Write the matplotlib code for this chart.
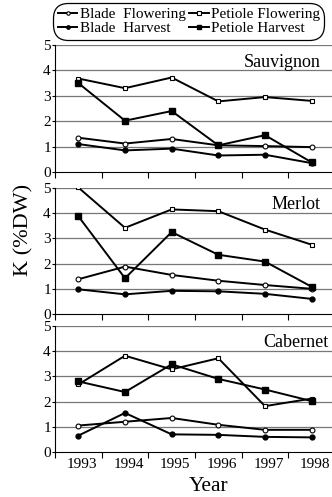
import matplotlib.pyplot as plt
import numpy as np

plt.rcParams['font.family'] = ['Liberation Serif', 'DejaVu Serif']

years = [1993, 1994, 1995, 1996, 1997, 1998]
cultivars = ["Sauvignon", "Merlot", "Cabernet"]

# K (%DW) per cultivar
blade_flowering = {
    "Sauvignon": [1.35, 1.12, 1.30, 1.05, 1.02, 0.98],
    "Merlot": [1.38, 1.88, 1.55, 1.32, 1.15, 1.00],
    "Cabernet": [1.05, 1.20, 1.35, 1.08, 0.88, 0.88],
}
blade_harvest = {
    "Sauvignon": [1.10, 0.85, 0.92, 0.65, 0.68, 0.35],
    "Merlot": [0.98, 0.78, 0.92, 0.90, 0.80, 0.60],
    "Cabernet": [0.65, 1.55, 0.70, 0.68, 0.60, 0.58],
}
petiole_flowering = {
    "Sauvignon": [3.68, 3.30, 3.72, 2.78, 2.95, 2.80],
    "Merlot": [5.02, 3.42, 4.15, 4.08, 3.35, 2.75],
    "Cabernet": [2.68, 3.82, 3.28, 3.72, 1.82, 2.12],
}
petiole_harvest = {
    "Sauvignon": [3.50, 2.02, 2.40, 1.05, 1.45, 0.38],
    "Merlot": [3.88, 1.42, 3.25, 2.35, 2.08, 1.08],
    "Cabernet": [2.80, 2.38, 3.48, 2.90, 2.48, 2.02],
}

fig = plt.figure(figsize=(3.32, 4.97), dpi=100)

# axes boxes in pixels: (top at 5, bottom at 0)
rows = [(45, 172), (188, 314), (326, 452)]
left_px, right_px = 55, 335
H, W = 497.0, 332.0
title_x = [0.95, 0.95, 0.975]

x = np.array(years)
handles = []
for i, (name, (top, bot)) in enumerate(zip(cultivars, rows)):
    ax = fig.add_axes([left_px / W, 1 - bot / H, (right_px - left_px) / W, (bot - top) / H])
    s1, = ax.plot(x, blade_flowering[name], "-", color="black", lw=1.4, marker="o",
                  ms=3.5, mfc="white", mec="black", mew=0.8, label="Blade  Flowering")
    s2, = ax.plot(x, blade_harvest[name], "-", color="black", lw=1.4, marker="o",
                  ms=3.5, mfc="black", mec="black", label="Blade  Harvest")
    s3, = ax.plot(x, petiole_flowering[name], "-", color="black", lw=1.4, marker="s",
                  ms=3.5, mfc="white", mec="black", mew=0.8, label="Petiole Flowering")
    s4, = ax.plot(x, petiole_harvest[name], "-", color="black", lw=1.4, marker="s",
                  ms=4, mfc="black", mec="black", label="Petiole Harvest")
    if i == 0:
        handles = [s1, s2, s3, s4]
    ax.set_xlim(1992.5, 1998.5)
    ax.set_ylim(0, 5)
    ax.set_yticks([0, 1, 2, 3, 4, 5])
    ax.set_xticks(np.arange(1992.5, 1999, 1.0))
    ax.set_xticklabels([])
    ax.tick_params(axis="x", direction="out", length=4, width=0.8)
    ax.tick_params(axis="y", length=2, labelsize=11, pad=1)
    for y in [1, 2, 3, 4, 5]:
        ax.axhline(y, color="#777777", lw=0.9, zorder=0)
    ax.spines["top"].set_visible(False)
    ax.spines["right"].set_visible(False)
    ax.text(title_x[i], 0.866, name, transform=ax.transAxes, ha="right", va="center", fontsize=13)
    if i == 2:
        for yr in years:
            ax.text(yr + 0.08, -0.25, str(yr), ha="center", va="top", fontsize=11)
        ax.text(1995.8, -1.0, "Year", ha="center", va="top", fontsize=15.5)

fig.text(0.072, 0.537, "K (%DW)", rotation=90, ha="center", va="center", fontsize=16)

leg = fig.legend(handles=handles, loc="upper left", bbox_to_anchor=(53 / W, 1 - 3 / H),
                 borderaxespad=0, ncol=2, fontsize=11, handlelength=1.3,
                 handletextpad=0.15, columnspacing=0.2, labelspacing=0.0, borderpad=0.3,
                 markerscale=0.7, fancybox=True, edgecolor="black", framealpha=1)
leg.get_frame().set_linewidth(0.9)
leg.get_frame().set_boxstyle("round,pad=0,rounding_size=1.0")

fig.savefig("out.png", dpi=100)
